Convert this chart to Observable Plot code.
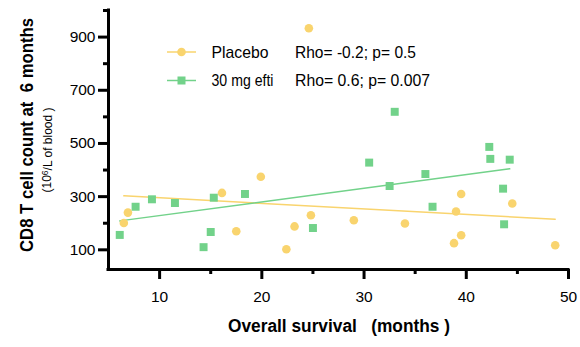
<!DOCTYPE html>
<html>
<head>
<meta charset="utf-8">
<script src="https://cdn.jsdelivr.net/npm/d3@7"></script>
<script src="https://cdn.jsdelivr.net/npm/@observablehq/plot@0.6"></script>
<style>
  body { margin: 0; background: #fff; }
  #chart { position: relative; width: 580px; height: 347px; }
</style>
</head>
<body>
<div id="chart"></div>
<script>
// Placebo group (months, CD8 count)
const placeboX = [6.5, 6.9, 16.1, 17.5, 19.9, 22.4, 23.2, 24.6, 24.8, 29.0, 34.0, 39.0, 39.5, 39.5, 38.8, 44.5, 48.7];
const placeboY = [201, 240, 314, 170, 375, 102, 188, 933, 230, 211, 199, 244, 310, 155, 125, 274, 117];
// 30 mg efti group
const eftiX = [6.1, 7.65, 9.25, 11.5, 14.3, 15.0, 15.3, 18.35, 25.0, 30.5, 32.5, 33.0, 36.0, 36.7, 42.25, 42.35, 43.6, 43.7, 44.25];
const eftiY = [156, 262, 290, 276, 110, 167, 296, 310, 182, 428, 340, 619, 385, 262, 487, 442, 330, 196, 439];

const xMajor = [10, 20, 30, 40, 50];
const xMinor = [15, 25, 35, 45];
const yMajor = [100, 300, 500, 700, 900];
const yMinor = [200, 400, 600, 800, 1000];

const seriesNames = ["Placebo", "30 mg efti"];
const statsText = ["Rho= -0.2; p= 0.5", "Rho= 0.6; p= 0.007"];
const yTitle = "CD8 T cell count at  6 months";
const xTitle = "Overall survival   (months )";

const YELLOW = "#F9D46E";
const GREEN = "#72D28A";
const FONT = '"Liberation Sans", Arial, Helvetica, sans-serif';

const placebo = placeboX.map((x, i) => ({x, y: placeboY[i]}));
const efti = eftiX.map((x, i) => ({x, y: eftiY[i]}));

const plot = Plot.plot({
  width: 580,
  height: 347,
  marginLeft: 108,
  marginRight: 12,
  marginTop: 10,
  marginBottom: 78,
  style: {fontFamily: FONT, background: "white", color: "black"},
  x: {domain: [5, 50]},
  y: {domain: [26, 1000]},
  marks: [
    Plot.linearRegressionY(placebo, {x: "x", y: "y", stroke: YELLOW, strokeWidth: 1.5, ci: 0}),
    Plot.linearRegressionY(efti, {x: "x", y: "y", stroke: GREEN, strokeWidth: 1.5, ci: 0}),
    Plot.dot(placebo, {x: "x", y: "y", r: 4.3, fill: YELLOW, symbol: "circle"}),
    Plot.dot(efti, {x: "x", y: "y", r: 4.5, fill: GREEN, symbol: "square"}),
    Plot.axisY(yMajor, {tickSize: 10, strokeWidth: 3, tickPadding: 3, fontSize: 15.5, label: null}),
    Plot.axisY(yMinor, {tickSize: 5, strokeWidth: 3, tickFormat: () => "", label: null}),
    Plot.axisX(xMajor, {tickSize: 10, strokeWidth: 3, tickPadding: 11, fontSize: 15.5, label: null}),
    Plot.axisX(xMinor, {tickSize: 5, strokeWidth: 3, tickFormat: () => "", label: null}),
    Plot.ruleX([5], {stroke: "black", strokeWidth: 3, strokeLinecap: "square"}),
    Plot.ruleY([26], {stroke: "black", strokeWidth: 3, strokeLinecap: "square"})
  ]
});
document.getElementById("chart").appendChild(plot);

const svg = d3.select(plot);
// Y title
svg.append("text")
  .attr("transform", "translate(33,135) rotate(-90)")
  .attr("text-anchor", "middle")
  .attr("textLength", 234).attr("lengthAdjust", "spacingAndGlyphs")
  .style("font-family", FONT).style("font-weight", "bold").style("font-size", "17.5px")
  .style("white-space", "pre").attr("xml:space", "preserve")
  .text(yTitle);
const sub = svg.append("text")
  .attr("transform", "translate(51,150) rotate(-90)")
  .attr("text-anchor", "middle")
  .style("font-family", FONT).style("font-size", "12px");
sub.append("tspan").text("(10");
sub.append("tspan").attr("dy", "-0.4em").style("font-size", "8.5px").text("6");
sub.append("tspan").attr("dy", "0.4em").text("/L of blood )");
// X title
svg.append("text")
  .attr("x", 339).attr("y", 332)
  .attr("text-anchor", "middle")
  .attr("textLength", 222).attr("lengthAdjust", "spacingAndGlyphs")
  .style("font-family", FONT).style("font-weight", "bold").style("font-size", "18px")
  .style("white-space", "pre").attr("xml:space", "preserve")
  .text(xTitle);

// Legend
const legendRows = [
  {name: seriesNames[0], stat: statsText[0], color: YELLOW, sym: "circle", cy: 52, base: 58, wName: 57, wStat: 121},
  {name: seriesNames[1], stat: statsText[1], color: GREEN, sym: "square", cy: 80.5, base: 86, wName: 62, wStat: 135}
];
const lg = svg.append("g").attr("text-anchor", "start");
legendRows.forEach(r => {
  lg.append("line").attr("x1", 167).attr("x2", 196).attr("y1", r.cy).attr("y2", r.cy)
    .attr("stroke", r.color).attr("stroke-width", 1.5);
  if (r.sym === "circle") {
    lg.append("circle").attr("cx", 181.5).attr("cy", r.cy).attr("r", 4.3).attr("fill", r.color);
  } else {
    lg.append("rect").attr("x", 177.5).attr("y", r.cy - 4).attr("width", 8).attr("height", 8).attr("fill", r.color);
  }
  lg.append("text").attr("x", 211.5).attr("y", r.base).attr("text-anchor", "start")
    .attr("textLength", r.wName).attr("lengthAdjust", "spacingAndGlyphs")
    .style("font-family", FONT).style("font-size", "17px").text(r.name);
  lg.append("text").attr("x", 295).attr("y", r.base).attr("text-anchor", "start")
    .attr("textLength", r.wStat).attr("lengthAdjust", "spacingAndGlyphs")
    .style("font-family", FONT).style("font-size", "17px").text(r.stat);
});
</script>
</body>
</html>
